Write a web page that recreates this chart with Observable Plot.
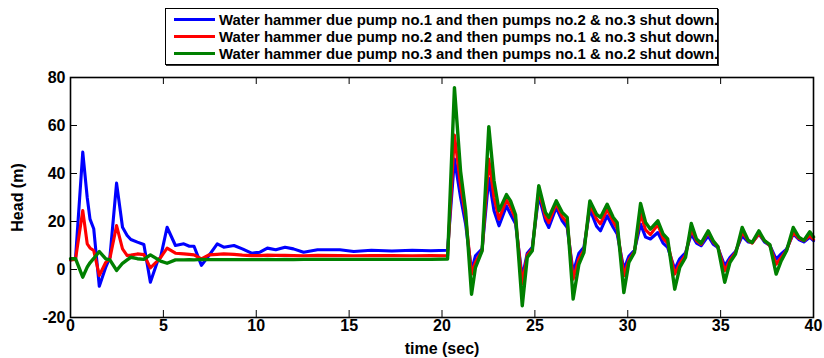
<!DOCTYPE html>
<html>
<head>
<meta charset="utf-8">
<script src="https://cdn.jsdelivr.net/npm/d3@7"></script>
<script src="https://cdn.jsdelivr.net/npm/@observablehq/plot@0.6"></script>
<style>
  html, body { margin: 0; padding: 0; background: #fff; }
  #wrap { position: relative; width: 824px; height: 358px; }
  #legend {
    position: absolute; left: 165px; top: 8px; width: 551px; height: 55px;
    border: 1px solid #000; box-shadow: 1px 1px 0 #333; background: #fff;
    font-family: "Liberation Sans", Arial, sans-serif; font-weight: bold; font-size: 14.9px;
    color: #000; box-sizing: content-box;
  }
  .row { position: absolute; left: 0; height: 17px; display: flex; align-items: center; white-space: nowrap; }
  .sw { width: 41px; height: 3px; margin-left: 8px; margin-right: 4px; }
</style>
</head>
<body>
<div id="wrap">
  <div id="chart"></div>
  <div id="legend"></div>
</div>
<script>
// Time axis (s) shared by the three transients
const time = [
  0, 0.27, 0.66, 0.9, 1.05, 1.25, 1.55, 1.9, 2.12, 2.48, 2.8, 3.05, 3.25, 3.6, 3.95,
  4.3, 4.7, 4.85, 5.2, 5.65, 6.1, 6.4, 6.65, 7.05, 7.45, 7.9, 8.25, 8.8, 9.25, 9.75,
  10.2, 10.6, 11.05, 11.55, 12.0, 12.55, 13.3, 14.5, 15.25, 16.2, 17.3, 18.4, 19.4,
  20.3, 20.67, 21.0, 21.27, 21.59, 21.8, 22.16, 22.52, 22.8, 23.07, 23.47, 23.69, 23.96,
  24.32, 24.59, 24.86, 25.21, 25.57, 25.75, 26.15, 26.47, 26.74, 27.06, 27.37, 27.64,
  27.96, 28.32, 28.53, 28.89, 29.22, 29.43, 29.79, 30.06, 30.36, 30.69, 30.96, 31.22,
  31.62, 31.9, 32.15, 32.53, 32.8, 33.11, 33.42, 33.7, 33.95, 34.33, 34.6, 34.85,
  35.22, 35.5, 35.8, 36.16, 36.48, 36.7, 37.06, 37.36, 37.65, 37.99, 38.26, 38.55,
  38.91, 39.21, 39.48, 39.8, 40
];

// Head (m): pump no.1 trips first
const headPump1 = [
  4, 4.5, 48.9, 30, 21, 17, -7, 1, 5, 36, 17.6, 14.2, 12.5, 11.4, 10.4,
  -5.3, 3.75, 5.1, 17.6, 10, 10.7, 9.7, 9.7, 1.7, 5.8, 10.7, 9.3, 10, 8.6, 6.8,
  7.2, 8.9, 8.2, 9.3, 8.6, 7.2, 8.2, 8.2, 7.5, 8, 7.7, 8, 7.8,
  8, 46, 30, 19, -0.5, 5.7, 8.6, 38, 24.5, 18.2, 26.5, 23, 19,
  -3.3, 6.8, 9.3, 30.7, 20.3, 17.5, 25.8, 20.3, 17.5, -1.2, 6.8, 9.3,
  25.1, 18, 16.1, 22.4, 17.5, 14.8, 0.1, 5.5, 8, 18.9, 13.5, 12.7,
  15.4, 11, 9.2, 0.1, 4.5, 7, 14.8, 11, 9.9, 14, 10.5, 9.2,
  1.5, 5, 7.5, 14, 11.5, 11.25, 14.8, 11.5, 10, 4.3, 6.5, 8.5,
  14.8, 12.5, 11.5, 13.4, 12
];

// Head (m): pump no.2 trips first
const headPump2 = [
  4, 4.2, 24.6, 10.7, 9, 7.9, -2.5, 3, 4.6, 18.3, 8.6, 5.8, 6.0, 6.5, 6.2,
  0.7, 3.75, 5, 8.9, 6.8, 6.5, 6.3, 6.1, 4.4, 6.1, 6.3, 6.5, 6.3, 6.0, 5.8,
  5.8, 6.0, 5.9, 5.9, 5.8, 5.7, 5.9, 5.8, 5.7, 5.8, 5.8, 5.7, 5.8,
  5.7, 56, 35, 22, -2, 3, 8, 46, 30, 21, 29, 26, 21,
  -6, 6, 8.5, 33, 22, 19.5, 27.5, 22, 19.5, -4, 4.5, 8,
  27, 21, 19, 25, 20, 17, -2.6, 4, 7.5, 23.2, 16.5, 14.5,
  18.7, 13, 11, -1.9, 2.5, 6, 16.8, 12, 10.5, 15.5, 11.5, 9.5,
  -0.5, 4, 7, 15.5, 12, 11, 15, 12, 10, 2.2, 5, 8,
  15.4, 13, 12, 14, 12.5
];

// Head (m): pump no.3 trips first
const headPump3 = [
  4.5, 4.5, -3.2, 1, 2.8, 4.6, 7.5, 4.4, 4, -0.4, 2.6, 4, 5.1, 4.5, 4.2,
  6.1, 4.2, 3.5, 2.6, 4, 4, 4.1, 4.0, 4.2, 4.1, 4.1, 4.1, 4.1, 4.1, 4.1,
  4.1, 4.2, 4.1, 4.2, 4.1, 4.2, 4.2, 4.2, 4.2, 4.2, 4.2, 4.2, 4.2,
  4.4, 75.8, 41, 24.5, -10.3, 0.8, 7.8, 59.5, 37, 24.5, 31.2, 28.6, 22.8,
  -15.1, 5, 7.8, 34.9, 23.8, 21.7, 28.6, 23.8, 21.7, -12.3, 2.2, 7.1,
  28.6, 23, 21.7, 27.2, 21.7, 19.6, -9.6, 2.9, 7.1, 27.5, 19.6, 16.8,
  20.3, 14.8, 12.7, -8.2, 0.9, 5, 19.2, 12.7, 11, 16.1, 12, 9.6,
  -5.3, 2.9, 6.4, 17.5, 12.2, 11.3, 16.1, 12, 10.4, -1.9, 3.6, 7.8,
  17.5, 13.5, 12.1, 15.7, 13.5
];

const seriesNames = [
  "Water hammer due pump no.1 and then pumps no.2 & no.3 shut down.",
  "Water hammer due pump no.2 and then pumps no.1 & no.3 shut down.",
  "Water hammer due pump no.3 and then pumps no.1 & no.2 shut down."
];
const seriesColors = ["#0000ff", "#ff0000", "#008000"];
const xTicks = [0, 5, 10, 15, 20, 25, 30, 35, 40];
const yTicks = [-20, 0, 20, 40, 60, 80];

const heads = [headPump1, headPump2, headPump3];
const rows = heads.flatMap((h, s) => time.map((t, i) => ({t, head: h[i], series: s})));

const W = 824, H = 358, mL = 70, mR = 11, mT = 77, mB = 41;
const innerW = W - mL - mR, innerH = H - mT - mB;
const tick = 7;

const chart = Plot.plot({
  width: W, height: H,
  marginLeft: mL, marginRight: mR, marginTop: mT, marginBottom: mB,
  style: {fontFamily: "'Liberation Sans', Arial, sans-serif", fontSize: "16px", fontWeight: "bold", color: "#000", background: "transparent"},
  x: {domain: [0, 40]},
  y: {domain: [-20, 80]},
  marks: [
    // inward ticks on all four sides
    Plot.tickX(xTicks, {x: d => d, insetTop: innerH - tick, stroke: "#000", strokeWidth: 1}),
    Plot.tickX(xTicks, {x: d => d, insetBottom: innerH - tick, stroke: "#000", strokeWidth: 1}),
    Plot.tickY(yTicks, {y: d => d, insetRight: innerW - tick, stroke: "#000", strokeWidth: 1}),
    Plot.tickY(yTicks, {y: d => d, insetLeft: innerW - tick, stroke: "#000", strokeWidth: 1}),
    ...[0, 1, 2].map(s => Plot.line(rows.filter(r => r.series === s), {
      x: "t", y: "head", stroke: seriesColors[s], strokeWidth: s === 2 ? 3.4 : 3.1,
      strokeLinejoin: "round"
    })),
    Plot.frame({stroke: "#000", strokeWidth: 1.6}),
    Plot.axisX({ticks: xTicks, tickSize: 0, tickPadding: 2, tickFormat: d => String(d),
      label: "time (sec)", labelArrow: "none", labelAnchor: "center", labelOffset: 36}),
    Plot.axisY({ticks: yTicks, tickSize: 0, tickPadding: 5, tickFormat: d => String(d),
      label: "Head (m)", labelArrow: "none", labelAnchor: "center", labelOffset: 59})
  ]
});
document.getElementById("chart").appendChild(chart);

// legend box
const legend = document.getElementById("legend");
seriesNames.forEach((name, i) => {
  const row = document.createElement("div");
  row.className = "row";
  row.style.top = (2 + i * 17) + "px";
  const sw = document.createElement("div");
  sw.className = "sw";
  sw.style.background = seriesColors[i];
  const label = document.createElement("span");
  label.textContent = name;
  row.appendChild(sw);
  row.appendChild(label);
  legend.appendChild(row);
});
</script>
</body>
</html>
